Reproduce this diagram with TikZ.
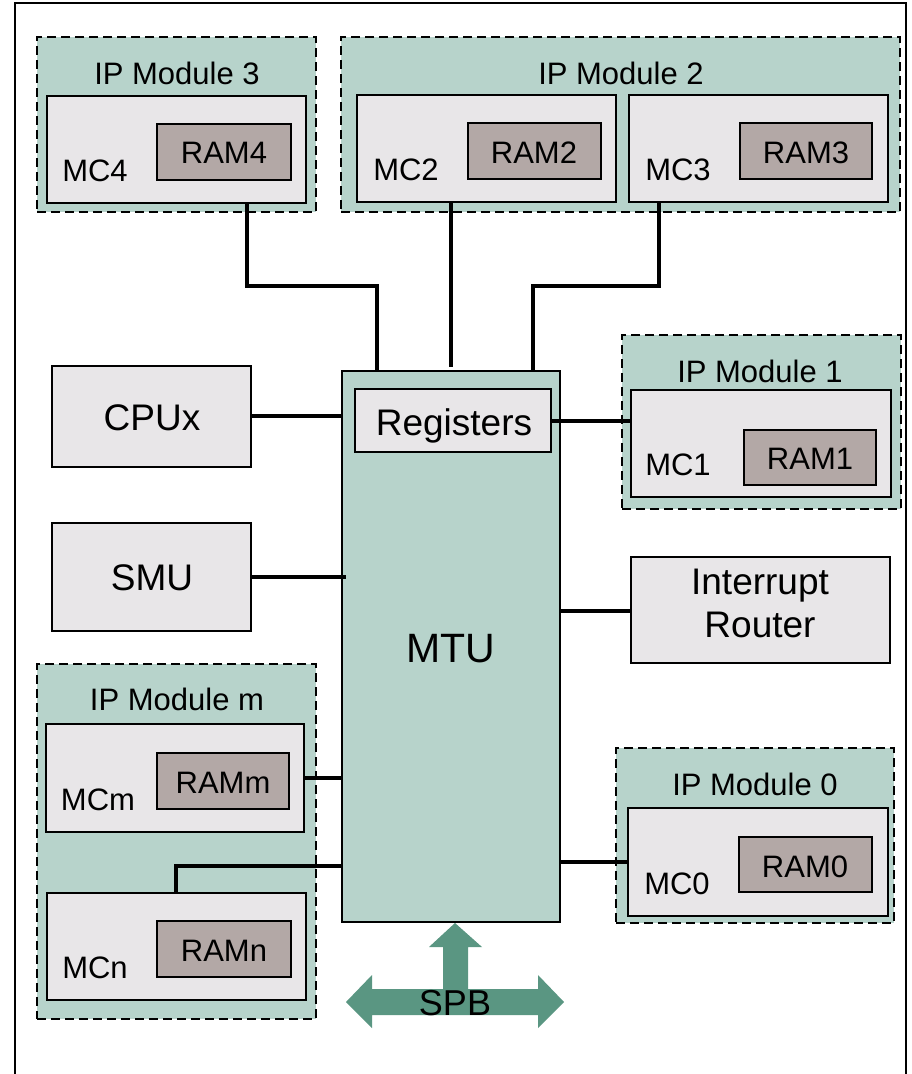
\documentclass[tikz,border=0pt]{standalone}
\usepackage{fontspec}
\setmainfont{Liberation Sans}
\definecolor{modteal}{HTML}{B7D3CB}
\definecolor{mcgray}{HTML}{E8E6E8}
\definecolor{ramgray}{HTML}{B3A8A6}
\definecolor{spbgreen}{HTML}{5A9682}
\newcommand\mybox[6]{\node[#2, minimum width={#5-#3}, minimum height={#6-#4}] (#1) at ({(#3+#5)/2},{(#4+#6)/2}) {};}
\tikzset{
  module/.style={draw=black, fill=modteal, line width=2.6pt, dash pattern=on 9pt off 5pt, inner sep=0pt, outer sep=0pt},
  mcbox/.style={draw=black, fill=mcgray, line width=2pt, inner sep=0pt, outer sep=0pt},
  rambox/.style={draw=black, fill=ramgray, line width=2pt, inner sep=0pt, outer sep=0pt},
  mtubox/.style={draw=black, fill=modteal, line width=2pt, inner sep=0pt, outer sep=0pt},
  conn/.style={line width=3.4pt, draw=black},
  tsmall/.style={font=\fontsize{31}{36}\selectfont, anchor=base, inner sep=0pt},
  tmid/.style={font=\fontsize{37}{43}\selectfont, anchor=base, inner sep=0pt},
  tbig/.style={font=\fontsize{41}{48}\selectfont, anchor=base, inner sep=0pt},
}
\begin{document}
\begin{tikzpicture}[x=1pt,y=-1pt]
\useasboundingbox (0,0) rectangle (912,1074);
% outer frame
\coordinate (fbl) at (15,1080);
\coordinate (ftl) at (15,3);
\coordinate (ftr) at (906,3);
\coordinate (fbr) at (906,1080);
\draw[line width=2.2pt] (fbl) -- (ftl) -- (ftr) -- (fbr);

% IP modules
\mybox{ip3}{module}{37}{37}{316}{212}
\mybox{ip2}{module}{341}{37}{900}{212}
\mybox{ip1}{module}{622}{335}{901}{509}
\mybox{ip0}{module}{616}{748}{894}{923}
\mybox{ipm}{module}{37}{664}{316}{1019}
\node[tsmall] (ip3t) at (177,84) {IP Module 3};
\node[tsmall] (ip2t) at (621,84) {IP Module 2};
\node[tsmall] (ip1t) at (760,382) {IP Module 1};
\node[tsmall] (ip0t) at (755,795) {IP Module 0};
\node[tsmall] (ipmt) at (177,710) {IP Module m};

% MC boxes
\mybox{mc4}{mcbox}{47}{96}{306}{203}
\mybox{mc2}{mcbox}{357}{95}{616}{202}
\mybox{mc3}{mcbox}{629}{95}{888}{202}
\mybox{mc1}{mcbox}{631}{390}{891}{497}
\mybox{mc0}{mcbox}{628}{808}{888}{916}
\mybox{mcm}{mcbox}{46}{724}{304}{832}
\mybox{mcn}{mcbox}{47}{893}{306}{1000}
\node[tsmall] (mc4t) at (95,181) {MC4};
\node[tsmall] (mc2t) at (406,180) {MC2};
\node[tsmall] (mc3t) at (678,180) {MC3};
\node[tsmall] (mc1t) at (678,475) {MC1};
\node[tsmall] (mc0t) at (677,894) {MC0};
\node[tsmall] (mcmt) at (98,810) {MCm};
\node[tsmall] (mcnt) at (95,978) {MCn};

% RAM boxes
\mybox{ram4}{rambox}{157}{124}{291}{180}
\mybox{ram2}{rambox}{468}{123}{601}{179}
\mybox{ram3}{rambox}{740}{123}{872}{179}
\mybox{ram1}{rambox}{744}{430}{876}{485}
\mybox{ram0}{rambox}{739}{837}{872}{892}
\mybox{ramm}{rambox}{157}{753}{289}{809}
\mybox{ramn}{rambox}{157}{921}{291}{977}
\node[tsmall] (ram4t) at (224,163) {RAM4};
\node[tsmall] (ram2t) at (534,163) {RAM2};
\node[tsmall] (ram3t) at (806,163) {RAM3};
\node[tsmall] (ram1t) at (810,469) {RAM1};
\node[tsmall] (ram0t) at (805,877) {RAM0};
\node[tsmall] (rammt) at (223,793) {RAMm};
\node[tsmall] (ramnt) at (224,961) {RAMn};

% other blocks
\mybox{cpu}{mcbox}{52}{366}{251}{467}
\mybox{smu}{mcbox}{52}{523}{251}{631}
\mybox{ir}{mcbox}{631}{557}{890}{663}
\mybox{mtu}{mtubox}{342}{371}{560}{922}
\mybox{reg}{mcbox}{355}{389}{551}{452}
\node[tmid] (cput) at (152,430) {CPUx};
\node[tmid] (smut) at (152,590) {SMU};
\node[tmid] (regt) at (454,435) {Registers};
\node[font=\fontsize{37}{43}\selectfont, align=center, inner sep=0pt] (irt) at (760,603) {Interrupt\\Router};
\node[tbig] (mtut) at (451,662) {MTU};

% connectors
\coordinate (j4a) at (247,286);
\coordinate (j4b) at (377,286);
\draw[conn] (j4a |- mc4.south) -- (j4a) -- (j4b) -- (j4b |- mtu.north);
\coordinate (j2) at (451,367);
\draw[conn] (j2 |- mc2.south) -- (j2);
\coordinate (j3a) at (659,286);
\coordinate (j3b) at (533,286);
\draw[conn] (j3a |- mc3.south) -- (j3a) -- (j3b) -- (j3b |- mtu.north);
\coordinate (jc) at (0,416);
\draw[conn] (jc -| cpu.east) -- (jc -| mtu.west);
\coordinate (js) at (346,577);
\draw[conn] (js -| smu.east) -- (js);
\coordinate (jr) at (0,421);
\draw[conn] (jr -| reg.east) -- (jr -| mc1.west);
\coordinate (ji) at (0,611);
\draw[conn] (ji -| mtu.east) -- (ji -| ir.west);
\coordinate (jm) at (0,778);
\draw[conn] (jm -| mcm.east) -- (jm -| mtu.west);
\coordinate (jn) at (176,866);
\draw[conn] (jn -| mtu.west) -- (jn) -- (jn |- mcn.north);
\coordinate (j0) at (0,862);
\draw[conn] (j0 -| mtu.east) -- (j0 -| mc0.west);

% SPB arrow
\fill[spbgreen] (455,923) -- (482,947) -- (468,947) -- (468,989) -- (538,989) -- (538,975)
  -- (564,1002) -- (538,1028) -- (538,1015) -- (372,1015) -- (372,1028) -- (346,1002)
  -- (372,975) -- (372,989) -- (443,989) -- (443,947) -- (429,947) -- cycle;
\node[font=\fontsize{36}{42}\selectfont, anchor=base, inner sep=0pt] (spbt) at (455,1015) {SPB};
\end{tikzpicture}
\end{document}
